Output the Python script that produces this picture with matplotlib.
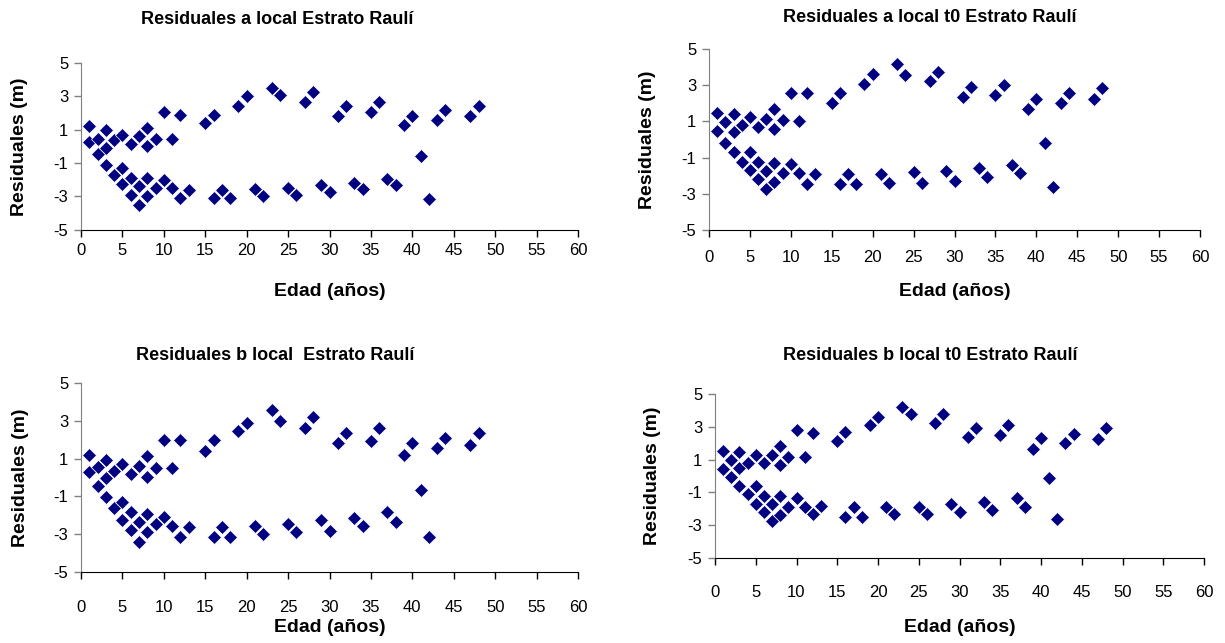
import numpy as np
import matplotlib
matplotlib.use('Agg')
from matplotlib import pyplot as plt

plt.rcParams['font.family'] = ['Liberation Sans', 'DejaVu Sans']
plt.rcParams['axes.unicode_minus'] = False

# edad de cada medicion (mismo orden en los cuatro ajustes)
edad = [1, 1, 2, 2, 3, 3, 3, 4, 4, 5, 5, 5, 6, 6, 6, 7, 7, 7, 8, 8, 8, 8,
        9, 9, 10, 10, 11, 11, 12, 12, 13, 15, 16, 16, 17, 18, 19, 20, 21, 22,
        23, 24, 25, 26, 27, 28, 29, 30, 31, 32, 33, 34, 35, 36, 37, 38, 39, 40,
        41, 42, 43, 44, 47, 48]

res_a_local = [1.2, 0.25, 0.45, -0.45, 0.95, -0.1, -1.1, 0.35, -1.7,
               0.7, -1.3, -2.25, 0.15, -1.9, -2.9, 0.6, -2.4, -3.5,
               1.1, 0.0, -1.9, -3.0, 0.45, -2.5, 2.05, -2.0, 0.45, -2.5,
               1.9, -3.1, -2.65, 1.4, 1.9, -3.1, -2.65, -3.1, 2.4, 3.0,
               -2.55, -3.0, 3.5, 3.1, -2.5, -2.9, 2.65, 3.25, -2.3, -2.75,
               1.8, 2.4, -2.2, -2.55, 2.05, 2.65, -1.95, -2.3, 1.3, 1.8,
               -0.6, -3.15, 1.55, 2.15, 1.8, 2.4]

res_a_local_t0 = [1.45, 0.48, 0.95, -0.17, 1.4, 0.4, -0.7, 0.8, -1.25,
                  1.23, -0.7, -1.68, 0.67, -1.25, -2.2, 1.15, -1.75, -2.75,
                  1.7, 0.58, -1.32, -2.33, 1.1, -1.86, 2.59, -1.36, 1.02, -1.87,
                  2.59, -2.45, -1.9, 2.04, 2.59, -2.48, -1.91, -2.48, 3.05, 3.6,
                  -1.93, -2.38, 4.15, 3.56, -1.81, -2.38, 3.23, 3.71, -1.72, -2.27,
                  2.37, 2.92, -1.59, -2.05, 2.46, 3.01, -1.41, -1.83, 1.67, 2.24,
                  -0.17, -2.61, 2.04, 2.59, 2.24, 2.83]

res_b_local = [1.2, 0.28, 0.55, -0.45, 0.92, -0.03, -1.05, 0.34, -1.63,
               0.69, -1.28, -2.25, 0.17, -1.84, -2.77, 0.61, -2.37, -3.43,
               1.13, 0.04, -1.93, -2.9, 0.48, -2.48, 1.98, -2.07, 0.48, -2.56,
               1.98, -3.13, -2.6, 1.42, 1.98, -3.13, -2.6, -3.13, 2.47, 2.91,
               -2.56, -3.0, 3.56, 3.0, -2.48, -2.9, 2.6, 3.21, -2.25, -2.81,
               1.84, 2.38, -2.16, -2.56, 1.94, 2.6, -1.84, -2.37, 1.19, 1.84,
               -0.66, -3.13, 1.54, 2.07, 1.71, 2.38]

res_b_local_t0 = [1.52, 0.43, 0.98, -0.04, 1.44, 0.51, -0.64, 0.77, -1.11,
                  1.28, -0.58, -1.7, 0.77, -1.25, -2.2, 1.28, -1.72, -2.73,
                  1.83, 0.67, -1.25, -2.36, 1.18, -1.86, 2.8, -1.35, 1.18, -1.86,
                  2.64, -2.32, -1.82, 2.15, 2.66, -2.47, -1.86, -2.47, 3.1, 3.61,
                  -1.86, -2.3, 4.21, 3.75, -1.86, -2.32, 3.26, 3.75, -1.7, -2.22,
                  2.35, 2.9, -1.6, -2.06, 2.53, 3.1, -1.35, -1.86, 1.64, 2.29,
                  -0.14, -2.61, 2.03, 2.55, 2.25, 2.9]

titulos = ['Residuales a local Estrato Raulí',
           'Residuales a local t0 Estrato Raulí',
           'Residuales b local  Estrato Raulí',
           'Residuales b local t0 Estrato Raulí']

W, H = 1225, 643
fig = plt.figure(figsize=(W / 100, H / 100), dpi=100)
fig.patch.set_facecolor('white')

def px(x, y):
    return x / W, 1 - y / H

# (izq, der, arriba, abajo), centro titulo, centro ylabel, pad ticks x, y xlabel
cajas = [
    ((81, 578, 63, 229.5), (277, 20), 20, 5.0, 292),
    ((709, 1200, 49, 230), (930, 17), 647, 9.4, 292),
    ((81, 578, 383, 572), (275, 355), 21, 15.0, 628),
    ((715, 1204, 394, 558), (930, 355), 652, 14.5, 628),
]
series = [res_a_local, res_a_local_t0, res_b_local, res_b_local_t0]

for i in range(4):
    (l, r, t, b), (tx, ty), ylx, xpad, xly = cajas[i]
    ax = fig.add_axes([l / W, 1 - b / H, (r - l) / W, (b - t) / H])
    ax.plot(edad, series[i], linestyle='none', marker='D', markersize=7.4,
            color='#000080', markeredgecolor='white', markeredgewidth=0.5,
            clip_on=False)
    ax.set_xlim(0, 60)
    ax.set_ylim(-5, 5)
    ax.set_xticks(np.arange(0, 61, 5))
    ax.set_yticks([-5, -3, -1, 1, 3, 5])
    for s in ['top', 'right']:
        ax.spines[s].set_visible(False)
    ax.spines['left'].set_color('#808080')
    ax.spines['bottom'].set_color('black')
    ax.tick_params(axis='y', direction='out', length=5, width=1,
                   color='#808080', labelsize=12, pad=4)
    ax.tick_params(axis='x', direction='out', length=5, width=1,
                   color='black', labelsize=12, pad=xpad)

    fig.text(*px(tx, ty), titulos[i], ha='center', va='center',
             fontsize=13, fontweight='bold')
    fig.text(*px(ylx, (t + b) / 2), 'Residuales (m)', rotation=90,
             ha='center', va='center', fontsize=14, fontweight='bold')
    fig.text(*px((l + r) / 2, xly), 'Edad (años)', ha='center', va='center',
             fontsize=14, fontweight='bold')

plt.savefig('out.png', dpi=100)
